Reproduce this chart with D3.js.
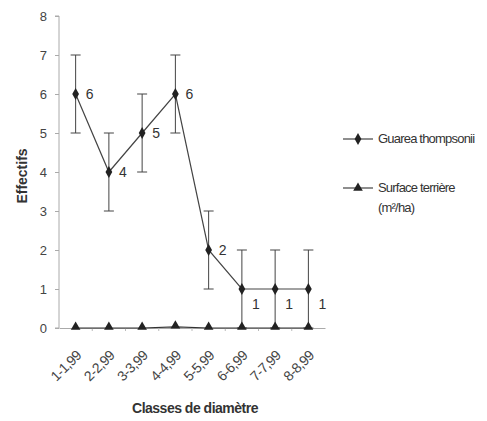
<!DOCTYPE html>
<html>
<head>
<meta charset="utf-8">
<script src="https://cdn.jsdelivr.net/npm/d3@7"></script>
<style>
  body { margin: 0; background: #fff; overflow: hidden; }
  svg { display: block; }
</style>
</head>
<body>
<div id="chart"></div>
<script>
const categories = ["1-1,99", "2-2,99", "3-3,99", "4-4,99", "5-5,99", "6-6,99", "7-7,99", "8-8,99"];
const effectifs = [6, 4, 5, 6, 2, 1, 1, 1];
const errors = [1, 1, 1, 1, 1, 1, 1, 1];
const surface = [0, 0, 0, 0.03, 0, 0, 0, 0];
const yTicks = [0, 1, 2, 3, 4, 5, 6, 7, 8];

const width = 487, height = 421;
const margin = {top: 16, left: 59};
const innerWidth = 266, innerHeight = 312;
const font = "Liberation Sans, Arial, sans-serif";

const svg = d3.select("#chart").append("svg")
    .attr("width", width)
    .attr("height", height)
    .attr("font-family", font);

const chart = svg.append("g")
    .attr("transform", `translate(${margin.left}, ${margin.top})`);

const x = d3.scaleBand()
    .domain(categories)
    .range([0, innerWidth]);

const y = d3.scaleLinear()
    .domain([0, 8])
    .range([innerHeight, 0]);

const cx = d => x(d) + x.bandwidth() / 2;

// axes
const yAxis = d3.axisLeft(y).tickValues(yTicks).tickSize(4).tickPadding(8);
const xAxis = d3.axisBottom(x).tickSize(0).tickPadding(10);

const gy = chart.append("g").call(yAxis)
    .attr("font-family", font)
    .attr("font-size", 13);
gy.selectAll("text").attr("fill", "#444");
gy.selectAll("line, path").attr("stroke", "#aaa");
gy.select(".domain").attr("d", `M-4,0H0V${innerHeight}H-4`);

const gx = chart.append("g")
    .attr("transform", `translate(0, ${innerHeight})`)
    .call(xAxis)
    .attr("font-family", font)
    .attr("font-size", 14);
gx.select(".domain").attr("stroke", "#aaa");
gx.selectAll("text")
    .attr("fill", "#444")
    .attr("letter-spacing", "-0.6")
    .attr("text-anchor", "end")
    .attr("y", 0)
    .attr("dy", "0.35em")
    .attr("transform", "translate(3, 25) rotate(-45)");

// small ticks between categories
chart.append("g").selectAll("line")
    .data(categories.slice(1))
    .enter().append("line")
    .attr("x1", d => x(d)).attr("x2", d => x(d))
    .attr("y1", innerHeight).attr("y2", innerHeight + 3)
    .attr("stroke", "#bbb");

// error bars
const eb = chart.append("g").selectAll("g")
    .data(categories)
    .enter().append("g")
    .attr("stroke", "#444")
    .attr("stroke-width", 1);
eb.append("line")
    .attr("x1", d => cx(d)).attr("x2", d => cx(d))
    .attr("y1", (d, i) => y(effectifs[i] - errors[i]))
    .attr("y2", (d, i) => y(effectifs[i] + errors[i]));
eb.append("line")
    .attr("x1", d => cx(d) - 5).attr("x2", d => cx(d) + 5)
    .attr("y1", (d, i) => y(effectifs[i] + errors[i]))
    .attr("y2", (d, i) => y(effectifs[i] + errors[i]));
eb.append("line")
    .attr("x1", d => cx(d) - 5).attr("x2", d => cx(d) + 5)
    .attr("y1", (d, i) => y(effectifs[i] - errors[i]))
    .attr("y2", (d, i) => y(effectifs[i] - errors[i]));

// lines
const line = d3.line()
    .x((d, i) => cx(categories[i]))
    .y(d => y(d));

chart.append("path")
    .datum(surface)
    .attr("fill", "none")
    .attr("stroke", "#333")
    .attr("stroke-width", 1.2)
    .attr("d", line);

chart.append("path")
    .datum(effectifs)
    .attr("fill", "none")
    .attr("stroke", "#444")
    .attr("stroke-width", 1.2)
    .attr("d", line);

const diamond = d3.symbol().type(d3.symbolDiamond).size(40);
const triangle = d3.symbol().type(d3.symbolTriangle).size(40);

chart.append("g").selectAll("path")
    .data(effectifs)
    .enter().append("path")
    .attr("d", diamond)
    .attr("fill", "#222")
    .attr("transform", (d, i) => `translate(${cx(categories[i])}, ${y(d)})`);

chart.append("g").selectAll("path")
    .data(surface)
    .enter().append("path")
    .attr("d", triangle)
    .attr("fill", "#222")
    .attr("transform", (d, i) => `translate(${cx(categories[i])}, ${y(d) - 1})`);

// value labels
chart.append("g").selectAll("text")
    .data(effectifs)
    .enter().append("text")
    .attr("x", (d, i) => cx(categories[i]) + 10)
    .attr("y", (d, i) => y(d) + (d === 1 ? 20 : 5))
    .attr("font-size", 14)
    .attr("fill", "#333")
    .text(d => d);

// axis titles
svg.append("text")
    .attr("transform", "translate(27, 176) rotate(-90)")
    .attr("text-anchor", "middle")
    .attr("font-size", 14)
    .attr("font-weight", "bold")
    .attr("fill", "#333")
    .text("Effectifs");

svg.append("text")
    .attr("x", margin.left + innerWidth / 2 + 3)
    .attr("y", 413)
    .attr("text-anchor", "middle")
    .attr("font-size", 14)
    .attr("font-weight", "bold")
    .attr("letter-spacing", "-0.5")
    .attr("fill", "#333")
    .text("Classes de diamètre");

// legend
const legendItems = [
    {label: ["Guarea thompsonii"], symbol: diamond, y: 139},
    {label: ["Surface terrière", "(m²/ha)"], symbol: triangle, y: 188}
];
const lg = svg.append("g").selectAll("g")
    .data(legendItems)
    .enter().append("g")
    .attr("transform", d => `translate(343, ${d.y})`);
lg.append("line")
    .attr("x1", 0).attr("x2", 30)
    .attr("stroke", "#444").attr("stroke-width", 1.2);
lg.append("path")
    .attr("d", d => d.symbol())
    .attr("fill", "#222")
    .attr("transform", "translate(15, 0)");
lg.append("text")
    .attr("x", 35)
    .attr("y", 4)
    .attr("font-size", 13)
    .attr("letter-spacing", "-0.8")
    .attr("fill", "#333")
    .selectAll("tspan")
    .data(d => d.label)
    .enter().append("tspan")
    .attr("x", 35)
    .attr("dy", (d, i) => i === 0 ? 0 : 20)
    .text(d => d);
</script>
</body>
</html>
